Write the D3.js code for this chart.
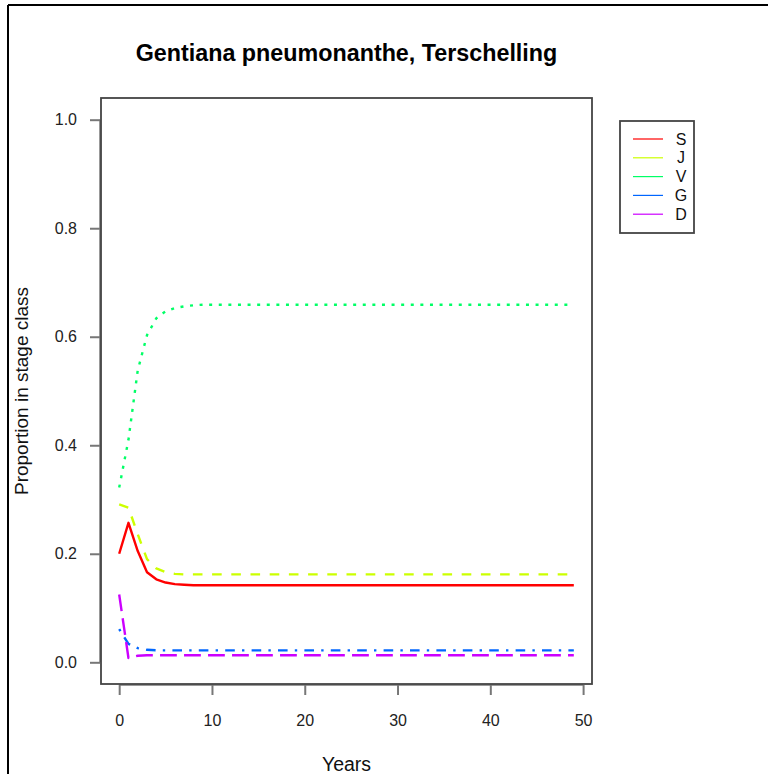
<!DOCTYPE html>
<html>
<head>
<meta charset="utf-8">
<script src="https://cdn.jsdelivr.net/npm/d3@7/dist/d3.min.js"></script>
<style>
  html, body { margin: 0; padding: 0; background: #fff; }
  svg { display: block; font-family: "Liberation Sans", Arial, sans-serif; }
</style>
</head>
<body>
<svg id="chart" width="768" height="774"></svg>
<script>
const title = "Gentiana pneumonanthe, Terschelling";
const xLabel = "Years";
const yLabel = "Proportion in stage class";
const years = [0,1,2,3,4,5,6,7,8,9,10,11,12,13,14,15,16,17,18,19,20,21,22,23,24,25,26,27,28,29,30,31,32,33,34,35,36,37,38,39,40,41,42,43,44,45,46,47,48,49];
const seriesNames = ["S", "J", "V", "G", "D"];
const S = [0.200,0.257,0.205,0.166,0.153,0.147,0.144,0.143,0.142,0.142,0.142,0.142,0.142,0.142,0.142,0.142,0.142,0.142,0.142,0.142,0.142,0.142,0.142,0.142,0.142,0.142,0.142,0.142,0.142,0.142,0.142,0.142,0.142,0.142,0.142,0.142,0.142,0.142,0.142,0.142,0.142,0.142,0.142,0.142,0.142,0.142,0.142,0.142,0.142,0.142];
const J = [0.291,0.285,0.236,0.190,0.173,0.166,0.163,0.162,0.162,0.162,0.162,0.162,0.162,0.162,0.162,0.162,0.162,0.162,0.162,0.162,0.162,0.162,0.162,0.162,0.162,0.162,0.162,0.162,0.162,0.162,0.162,0.162,0.162,0.162,0.162,0.162,0.162,0.162,0.162,0.162,0.162,0.162,0.162,0.162,0.162,0.162,0.162,0.162,0.162,0.162];
const V = [0.322,0.410,0.538,0.603,0.634,0.647,0.653,0.656,0.658,0.659,0.659,0.659,0.659,0.659,0.659,0.659,0.659,0.659,0.659,0.659,0.659,0.659,0.659,0.659,0.659,0.659,0.659,0.659,0.659,0.659,0.659,0.659,0.659,0.659,0.659,0.659,0.659,0.659,0.659,0.659,0.659,0.659,0.659,0.659,0.659,0.659,0.659,0.659,0.659,0.659];
const G = [0.061,0.034,0.026,0.023,0.022,0.022,0.022,0.022,0.022,0.022,0.022,0.022,0.022,0.022,0.022,0.022,0.022,0.022,0.022,0.022,0.022,0.022,0.022,0.022,0.022,0.022,0.022,0.022,0.022,0.022,0.022,0.022,0.022,0.022,0.022,0.022,0.022,0.022,0.022,0.022,0.022,0.022,0.022,0.022,0.022,0.022,0.022,0.022,0.022,0.022];
const D = [0.125,0.008,0.012,0.013,0.013,0.013,0.013,0.013,0.013,0.013,0.013,0.013,0.013,0.013,0.013,0.013,0.013,0.013,0.013,0.013,0.013,0.013,0.013,0.013,0.013,0.013,0.013,0.013,0.013,0.013,0.013,0.013,0.013,0.013,0.013,0.013,0.013,0.013,0.013,0.013,0.013,0.013,0.013,0.013,0.013,0.013,0.013,0.013,0.013,0.013];
const xTicks = [0, 10, 20, 30, 40, 50];
const yTicks = [0.0, 0.2, 0.4, 0.6, 0.8, 1.0];

const colors = ["#FF0000", "#CCFF00", "#00FF66", "#0066FF", "#CC00FF"];
const dashes = ["none", "9.6,9.6", "3,6.6", "2.4,7.2,9.6,7.2", "16.8,7.2"];
const seriesValues = [S, J, V, G, D];

const svg = d3.select("#chart");
const box = { left: 101, right: 592, top: 98, bottom: 684 };

const x = d3.scaleLinear().domain([-1.96, 50.96]).range([box.left, box.right]);
const y = d3.scaleLinear().domain([-0.04, 1.04]).range([box.bottom, box.top]);

// outer frame
svg.append("line").attr("x1", 8).attr("x2", 8).attr("y1", 5).attr("y2", 774)
  .attr("stroke", "#000").attr("stroke-width", 2);
svg.append("line").attr("x1", 8).attr("x2", 768).attr("y1", 5).attr("y2", 5)
  .attr("stroke", "#000").attr("stroke-width", 2);

// title
svg.append("text").attr("x", (box.left + box.right) / 2).attr("y", 61)
  .attr("text-anchor", "middle").attr("font-weight", "bold").attr("font-size", 23.3)
  .attr("fill", "#000").text(title);

// x axis
const xAxis = d3.axisBottom(x).tickValues(xTicks).tickSize(10).tickPadding(20).tickFormat(d3.format("d"));
const gx = svg.append("g").attr("transform", `translate(0,${box.bottom + 1})`).call(xAxis);
gx.select(".domain").attr("stroke", "#777").attr("stroke-width", 1.5)
  .attr("d", `M${x(0)},0H${x(50)}`);
gx.selectAll(".tick line").attr("stroke", "#777").attr("stroke-width", 2);
gx.selectAll(".tick text").attr("font-size", 16).attr("fill", "#222")
  .attr("font-family", "Liberation Sans, Arial, sans-serif");

// y axis
const yAxis = d3.axisLeft(y).tickValues(yTicks).tickSize(10).tickPadding(13).tickFormat(d3.format(".1f"));
const gy = svg.append("g").attr("transform", `translate(${box.left - 1},0)`).call(yAxis);
gy.select(".domain").attr("stroke", "#777").attr("stroke-width", 1.5)
  .attr("d", `M0,${y(0)}V${y(1)}`);
gy.selectAll(".tick line").attr("stroke", "#777").attr("stroke-width", 2);
gy.selectAll(".tick text").attr("font-size", 16).attr("fill", "#222")
  .attr("font-family", "Liberation Sans, Arial, sans-serif");

// plot box
svg.append("rect").attr("x", box.left).attr("y", box.top)
  .attr("width", box.right - box.left).attr("height", box.bottom - box.top)
  .attr("fill", "none").attr("stroke", "#444").attr("stroke-width", 1.8);

// axis labels
svg.append("text").attr("x", (box.left + box.right) / 2).attr("y", 771)
  .attr("text-anchor", "middle").attr("font-size", 19.5).attr("fill", "#111").text(xLabel);
svg.append("text").attr("transform", `translate(28,${(box.top + box.bottom) / 2}) rotate(-90)`)
  .attr("text-anchor", "middle").attr("font-size", 19).attr("fill", "#111").text(yLabel);

// lines
const line = d3.line().x((d, i) => x(years[i])).y(d => y(d));
seriesValues.forEach((vals, k) => {
  svg.append("path").datum(vals).attr("d", line)
    .attr("fill", "none").attr("stroke", colors[k]).attr("stroke-width", 2.4)
    .attr("stroke-dasharray", dashes[k]).attr("stroke-linecap", "butt")
    .attr("stroke-linejoin", "round");
});

// legend
const lg = svg.append("g");
lg.append("rect").attr("x", 620).attr("y", 121).attr("width", 74).attr("height", 112)
  .attr("fill", "#fff").attr("stroke", "#444").attr("stroke-width", 1.8);
seriesNames.forEach((name, k) => {
  const ly = 139 + k * 18.8;
  lg.append("line").attr("x1", 633).attr("x2", 663).attr("y1", ly).attr("y2", ly)
    .attr("stroke", colors[k]).attr("stroke-width", 1.2);
  lg.append("text").attr("x", 681).attr("y", ly + 5.5).attr("text-anchor", "middle")
    .attr("font-size", 16).attr("fill", "#111").text(name);
});
</script>
</body>
</html>
